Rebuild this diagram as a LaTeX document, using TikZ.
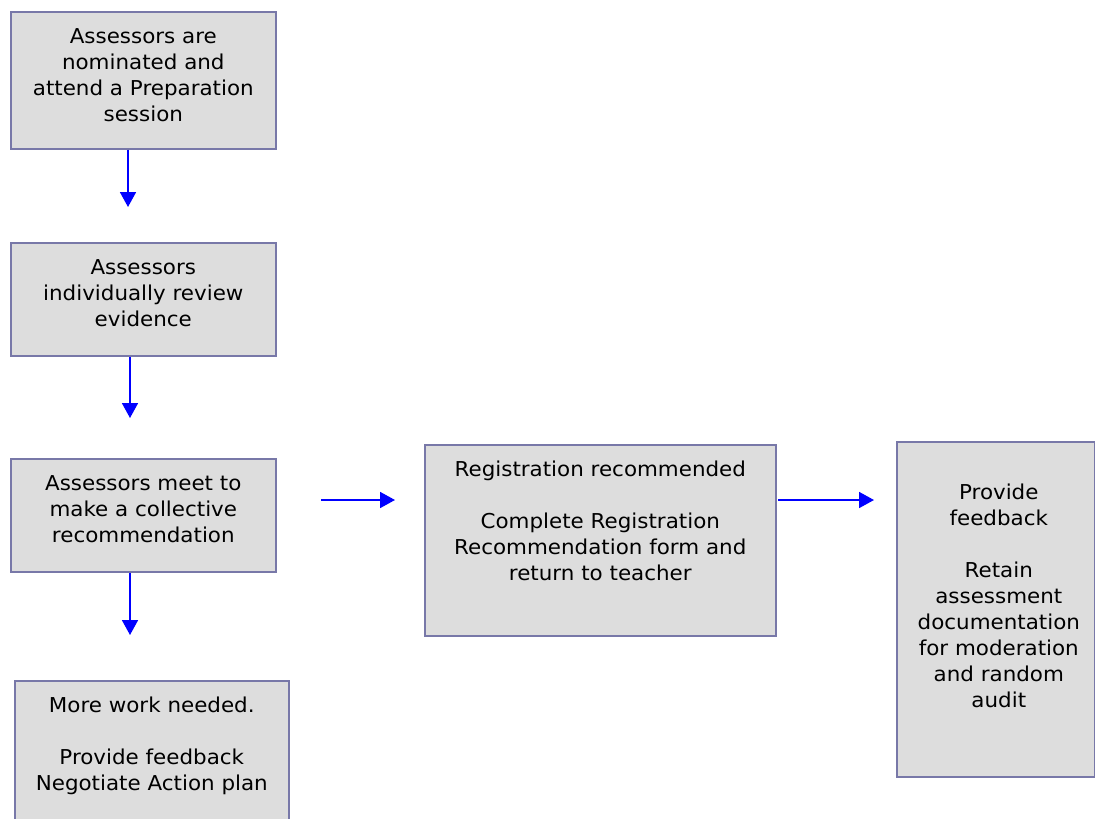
\documentclass[tikz,border=0pt]{standalone}
\usepackage{fontspec}
\setmainfont{DejaVu Sans}[FakeStretch=1.045]
\usetikzlibrary{arrows.meta,calc}
\definecolor{boxfill}{HTML}{DDDDDD}
\definecolor{boxline}{HTML}{7878A8}
\tikzset{
 stepbox/.style={draw=boxline, fill=boxfill, line width=1.6pt, inner sep=0pt, anchor=north west},
 boxtext/.style={anchor=base, align=center, inner sep=0pt, font=\fontsize{20.5pt}{26pt}\selectfont},
 flow/.style={draw=blue, line width=1.8pt, -{Triangle[length=15pt,width=16pt]}}
}
\begin{document}
\begin{tikzpicture}[x=1pt,y=-1pt]
\useasboundingbox (0,0) rectangle (1095,819);
\clip (0,0) rectangle (1095,819);
% boxes
\node[stepbox, minimum width=265pt, minimum height=137pt] (b1) at (10,11) {};
\node[stepbox, minimum width=265pt, minimum height=113pt] (b2) at (10,242) {};
\node[stepbox, minimum width=265pt, minimum height=113pt] (b3) at (10,458) {};
\node[stepbox, minimum width=274pt, minimum height=160pt] (b4) at (14,680) {};
\node[stepbox, minimum width=351pt, minimum height=191pt] (b5) at (424,444) {};
\node[stepbox, minimum width=198pt, minimum height=335pt] (b6) at (896,441) {};
% texts
\node[boxtext, text width=262pt] (t1) at ($(b1.north)+(0,32)$) {Assessors are\\nominated and\\attend a Preparation\\session};
\node[boxtext, text width=262pt] (t2) at ($(b2.north)+(0,32)$) {Assessors\\individually review\\evidence};
\node[boxtext, text width=262pt] (t3) at ($(b3.north)+(0,32)$) {Assessors meet to\\make a collective\\recommendation};
\node[boxtext, text width=270pt] (t4) at ($(b4.north)+(0,32)$) {More work needed.\\[26pt]Provide feedback\\Negotiate Action plan};
\node[boxtext, text width=347pt] (t5) at ($(b5.north)+(0,32)$) {Registration recommended\\[26pt]Complete Registration\\Recommendation form and\\return to teacher};
\node[boxtext, text width=194pt] (t6) at ($(b6.north)+(3,58)$) {Provide\\feedback\\[26pt]Retain\\assessment\\documentation\\for moderation\\and random\\audit};
% connectors
\coordinate (a1e) at (128,207);
\coordinate (a2e) at (130,418);
\coordinate (a3e) at (130,635);
\coordinate (a4s) at (321,500);
\coordinate (a4e) at (395,500);
\coordinate (a5s) at (778,500);
\coordinate (a5e) at (874,500);
\draw[flow] (b1.south -| a1e) -- (a1e);
\draw[flow] (b2.south -| a2e) -- (a2e);
\draw[flow] (b3.south -| a3e) -- (a3e);
\draw[flow] (a4s) -- (a4e);
\draw[flow] (a5s) -- (a5e);
\end{tikzpicture}
\end{document}
